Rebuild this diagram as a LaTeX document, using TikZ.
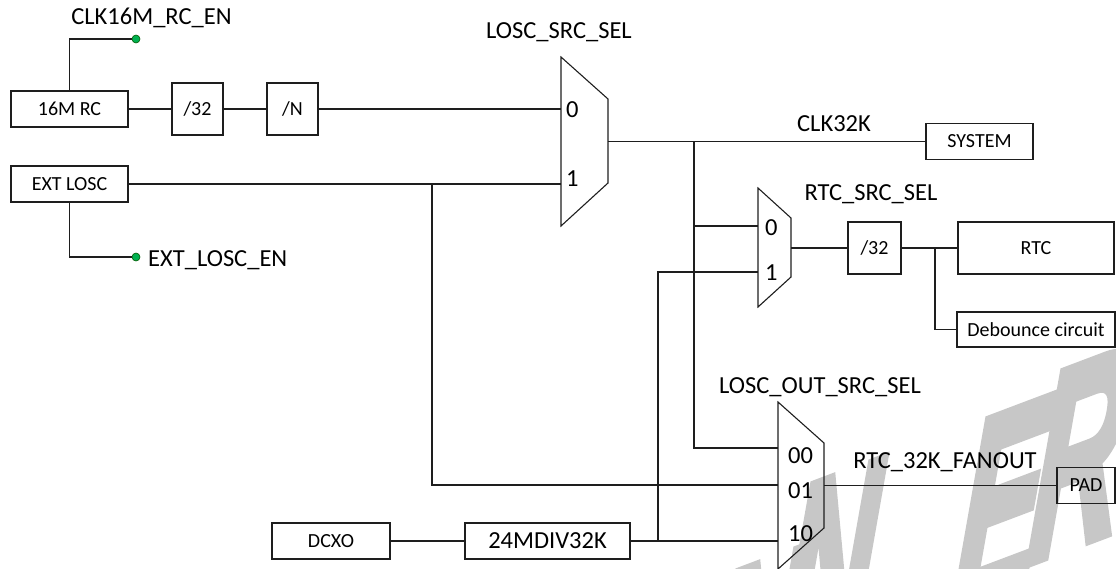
\documentclass[tikz,border=0pt]{standalone}
\usepackage{fontspec}
\setmainfont{Carlito}
\newfontfamily\wmfont[FakeBold=4]{Liberation Sans}
\definecolor{dotgreen}{RGB}{0,176,80}
\definecolor{wire}{RGB}{30,30,30}
\begin{document}
\begin{tikzpicture}[x=1pt,y=-1pt,
  wire/.style={line width=1.1pt, draw=wire},
  box/.style={draw=wire, line width=1.1pt, inner sep=0pt, font=\fontsize{20}{23}\selectfont},
  lbl/.style={inner sep=0pt, font=\fontsize{24.5}{28}\selectfont},
  muxshape/.style={draw=wire, line width=1.1pt},
  endot/.style={circle, draw=green!35!black, fill=dotgreen, minimum size=8pt, inner sep=0pt, line width=0.6pt},
  wmletter/.style={inner sep=0pt, anchor=base west, text=black!22,
     font=\wmfont\bfseries\fontsize{280}{280}\selectfont,
     cm={0.45,0.17,0.174,0.985,(0,0)}}]
\useasboundingbox (0,0) rectangle (1116,568);
% watermark letters
\node[wmletter] (wm1) at (695,766) {N};
\node[wmletter] (wm2) at (770,679) {N};
\node[wmletter] (wm3) at (945,614) {E};
\node[wmletter] (wm4) at (1020,566) {R};
% boxes
\node[box, minimum width=117pt, minimum height=36pt] (rc16) at (69.5,109) {16M RC};
\node[box, minimum width=51pt, minimum height=52pt] (div32a) at (197.5,109) {/32};
\node[box, minimum width=51pt, minimum height=52pt] (divN) at (292.5,109) {/N};
\node[box, minimum width=117pt, minimum height=36pt] (extlosc) at (69.5,184) {EXT LOSC};
\node[box, minimum width=107pt, minimum height=36pt] (system) at (979.5,141.5) {SYSTEM};
\node[box, minimum width=53pt, minimum height=52pt] (div32b) at (874.5,248) {/32};
\node[box, minimum width=156pt, minimum height=52pt] (rtc) at (1036,248) {RTC};
\node[box, minimum width=158pt, minimum height=35pt] (deb) at (1036,329.5) {Debounce circuit};
\node[box, minimum width=58pt, minimum height=36pt] (pad) at (1086,485.5) {PAD};
\node[box, minimum width=118pt, minimum height=36pt] (dcxo) at (331,541) {DCXO};
\node[box, line width=1.7pt, minimum width=165pt, minimum height=36pt,
      font=\fontsize{24.5}{28}\selectfont] (mdiv) at (547.5,541) {24MDIV32K};
% enable dots
\node[endot] (en1) at (136,39) {};
\node[endot] (en2) at (136,257) {};
% muxes
\draw[muxshape] (561,57) -- (608,99) -- (608,183) -- (561,226) -- cycle;
\coordinate (m1i0) at (561,109);
\coordinate (m1i1) at (561,184);
\coordinate (m1o) at (608,141.5);
\draw[muxshape] (758,188) -- (791,218) -- (791,277) -- (758,307) -- cycle;
\coordinate (m2i0) at (758,226);
\coordinate (m2i1) at (758,272);
\coordinate (m2o) at (791,248);
\draw[muxshape] (778,402) -- (824,443) -- (824,528) -- (778,569) -- cycle;
\coordinate (m3i0) at (778,448);
\coordinate (m3i1) at (778,485);
\coordinate (m3i2) at (778,541);
\coordinate (m3o) at (824,485.5);
% junctions
\coordinate (j1) at (694,141.5);
\coordinate (j2) at (694,226);
\coordinate (j3) at (935,248);
\coordinate (j4) at (432,184);
\coordinate (j5) at (658,541);
% wires
\draw[wire] (rc16) -- (div32a);
\draw[wire] (div32a) -- (divN);
\draw[wire] (divN.east) -- (m1i0);
\draw[wire] (rc16.north) |- (en1);
\draw[wire] (extlosc.east) -- (m1i1);
\draw[wire] (extlosc.south) |- (en2);
\draw[wire] (m1o) -- (system.west);
\draw[wire] (j1) |- (m3i0);
\draw[wire] (j2) -- (m2i0);
\draw[wire] (m2o) -- (div32b.west);
\draw[wire] (div32b) -- (rtc);
\draw[wire] (j3) |- (deb.west);
\draw[wire] (j4) |- (m3i1);
\draw[wire] (dcxo) -- (mdiv);
\draw[wire] (mdiv.east) -- (m3i2);
\draw[wire] (j5) |- (m2i1);
\draw[wire] (m3o) -- (pad.west);
% labels
\node[lbl, anchor=base] (lclk16) at (151.5,24) {CLK16M\_RC\_EN};
\node[lbl, anchor=base] (llsel) at (559,38) {LOSC\_SRC\_SEL};
\node[lbl, anchor=base] (lclk32) at (834,131.5) {CLK32K};
\node[lbl, anchor=base] (lrsel) at (871,200) {RTC\_SRC\_SEL};
\node[lbl, anchor=base west] (lext) at (148,266.5) {EXT\_LOSC\_EN};
\node[lbl, anchor=base] (losel) at (820,393) {LOSC\_OUT\_SRC\_SEL};
\node[lbl, anchor=base] (lfan) at (945,468) {RTC\_32K\_FANOUT};
% mux input labels
\node[lbl, anchor=base west] (m1l0) at (566,117) {0};
\node[lbl, anchor=base west] (m1l1) at (566,186) {1};
\node[lbl, anchor=base west] (m2l0) at (765,235) {0};
\node[lbl, anchor=base west] (m2l1) at (765,280.5) {1};
\node[lbl, anchor=base west] (m3l0) at (788,463) {00};
\node[lbl, anchor=base west] (m3l1) at (788,498) {01};
\node[lbl, anchor=base west] (m3l2) at (788,541) {10};
\end{tikzpicture}
\end{document}
